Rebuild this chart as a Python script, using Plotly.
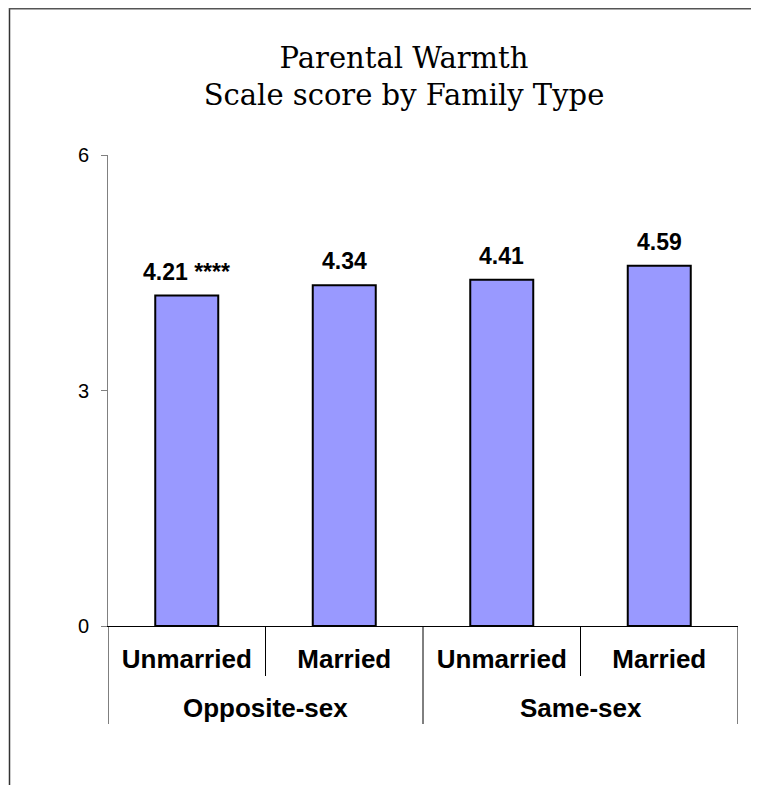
import plotly.graph_objects as go

groups = ["Opposite-sex", "Opposite-sex", "Same-sex", "Same-sex"]
types = ["Unmarried", "Married", "Unmarried", "Married"]
values = [4.21, 4.34, 4.41, 4.59]
value_labels = ["4.21 ****", "4.34", "4.41", "4.59"]
y_ticks = [0, 3, 6]

# page body has an 8px margin; figure sized so the plot lands where the reference has it
W, H = 751, 777
L, R, T, B = 100, 21, 147, 159
pw, ph = W - L - R, H - T - B

def py(y):
    return (H - B - y) / ph

def px(x):
    return (x - L) / pw

xs = list(range(len(values)))

fig = go.Figure()
fig.add_trace(go.Bar(
    x=xs, y=values,
    marker=dict(color="#9999FF", line=dict(color="black", width=2)),
    width=0.4, showlegend=False, hoverinfo="skip",
))

for i, (v, t) in enumerate(zip(values, value_labels)):
    fig.add_annotation(
        x=i, y=v, xref="x", yref="y", text=t, showarrow=False,
        yanchor="bottom", yshift=9,
        font=dict(family="Liberation Sans", size=23, color="black", weight="bold"),
    )

# inner dividers between types within a group, outer dividers between groups
for i in range(len(xs) + 1):
    xb = i - 0.5
    outer = i == 0 or i == len(xs) or groups[i] != groups[i - 1]
    fig.add_shape(type="line", xref="x", yref="paper",
                  x0=xb, x1=xb, y0=0, y1=py(716 if outer else 668),
                  line=dict(color="black", width=1))

# outer group labels
seen = []
for g in groups:
    if g not in seen:
        seen.append(g)
for g in seen:
    idx = [i for i, gg in enumerate(groups) if gg == g]
    fig.add_annotation(
        x=sum(idx) / len(idx), y=py(700), xref="x", yref="paper",
        text=g, showarrow=False, yanchor="middle",
        font=dict(family="Liberation Sans", size=26, color="black", weight="bold"),
    )

# frame lines (left and top)
fig.add_shape(type="line", xref="paper", yref="paper",
              x0=px(1.5), x1=px(1.5), y0=py(0), y1=py(800),
              line=dict(color="#333333", width=1.5))
fig.add_shape(type="line", xref="paper", yref="paper",
              x0=px(1), x1=px(770), y0=py(0.75), y1=py(0.75),
              line=dict(color="#555555", width=1.5))

fig.update_layout(
    width=W, height=H,
    margin=dict(l=L, r=R, t=T, b=B),
    paper_bgcolor="white", plot_bgcolor="white",
    title=dict(
        text="Parental Warmth<br>Scale score by Family Type",
        x=px(396), xref="paper", xanchor="center",
        y=1 - 59.5 / H, yanchor="middle",
        font=dict(family="DejaVu Serif", size=29, color="black"),
    ),
)
fig.update_xaxes(
    range=[-0.5, len(xs) - 0.5], tickvals=xs, ticktext=types,
    showline=True, linecolor="black", linewidth=1,
    ticks="", ticklabelstandoff=10,
    tickfont=dict(family="Liberation Sans", size=26, color="black", weight="bold"),
    showgrid=False, zeroline=False,
)
fig.update_yaxes(
    range=[0, 6], tickvals=y_ticks, ticktext=[str(v) for v in y_ticks],
    showline=True, linecolor="#808080", linewidth=1,
    ticks="outside", ticklen=6, tickcolor="#808080",
    ticklabelstandoff=8,
    tickfont=dict(family="Liberation Sans", size=20, color="black"),
    showgrid=False, zeroline=False,
)

fig.write_html("out.html")
